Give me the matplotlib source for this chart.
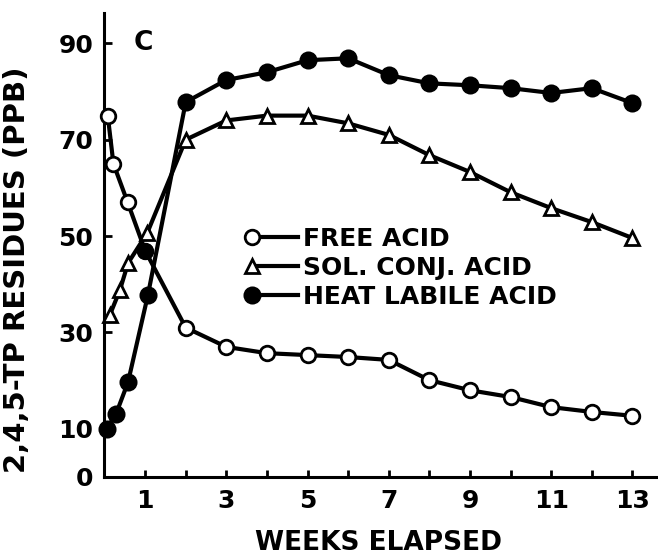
import matplotlib
matplotlib.use("Agg")
import matplotlib.pyplot as plt
from matplotlib.lines import Line2D
from matplotlib.legend_handler import HandlerBase

# ---- data ----
free_weeks = [0.08, 0.22, 0.57, 1.0, 2, 3, 4, 5, 6, 7, 8, 9, 10, 11, 12, 13]
free_acid = [75, 65, 57, 47, 31, 27, 25.7, 25.3, 24.9, 24.3, 20.1, 18, 16.6, 14.5, 13.5, 12.7]

conj_weeks = [0.13, 0.38, 0.58, 1.05, 2, 3, 4, 5, 6, 7, 8, 9, 10, 11, 12, 13]
sol_conj_acid = [33.6, 38.8, 44.4, 50.6, 70, 74, 75, 75, 73.4, 71, 66.8, 63.3, 59.1, 55.8, 52.9, 49.6]

heat_weeks = [0.05, 0.28, 0.58, 1.07, 2, 3, 4, 5, 6, 7, 8, 9, 10, 11, 12, 13]
heat_labile_acid = [10, 13, 19.7, 37.8, 77.8, 82.4, 84, 86.5, 86.9, 83.4, 81.7, 81.3, 80.7, 79.7, 80.7, 77.6]

series_labels = ["FREE ACID", "SOL. CONJ. ACID", "HEAT LABILE ACID"]
x_tick_values = [1, 3, 5, 7, 9, 11, 13]
x_minor_values = [2, 4, 6, 8, 10, 12]
y_tick_values = [0, 10, 30, 50, 70, 90]
x_label = "WEEKS ELAPSED"
y_label = "2,4,5-TP RESIDUES (PPB)"
panel_label = "C"

plt.rcParams['font.family'] = ['DejaVu Sans']
plt.rcParams['font.weight'] = 'bold'

fig = plt.figure(figsize=(6.58, 5.56), dpi=100)
ax = fig.add_axes([104.5 / 658, 79 / 556, 553.5 / 658, 464 / 556])
ax.set_xlim(0, 13.63)
ax.set_ylim(0, 96.3)

lw = 3.0
h_free, = ax.plot(free_weeks, free_acid, color='black', lw=lw, marker='o', ms=10.5,
                  mfc='white', mec='black', mew=2.0, clip_on=False, zorder=3)
# the 1-week free-acid point is printed filled in the original
ax.plot([free_weeks[3]], [free_acid[3]], linestyle='none', marker='o', ms=11,
        mfc='black', mec='black', clip_on=False, zorder=4)
h_conj, = ax.plot(conj_weeks, sol_conj_acid, color='black', lw=lw, marker='^', ms=10,
                  mfc='white', mec='black', mew=2.0, clip_on=False, zorder=3)
h_heat, = ax.plot(heat_weeks, heat_labile_acid, color='black', lw=lw, marker='o', ms=11.5,
                  mfc='black', mec='black', mew=1.5, clip_on=False, zorder=3)

for s in ['top', 'right']:
    ax.spines[s].set_visible(False)
for s in ['left', 'bottom']:
    ax.spines[s].set_linewidth(2.2)

ax.set_xticks(x_tick_values)
ax.set_xticks(x_minor_values, minor=True)
ax.set_yticks(y_tick_values)
ax.tick_params(axis='both', which='both', direction='in', width=2, colors='black')
ax.tick_params(axis='x', which='major', length=5, pad=9, labelsize=18)
ax.tick_params(axis='x', which='minor', length=5)
ax.tick_params(axis='y', which='major', length=6, pad=8, labelsize=18)
for t in ax.get_xticklabels() + ax.get_yticklabels():
    t.set_fontweight('bold')

ax.text(0.95, 90, panel_label, ha='center', va='center', fontsize=19, fontweight='bold')

fig.text(17 / 658, 1 - 270 / 556, y_label, rotation=90, ha='center', va='center',
         fontsize=21, fontweight='bold')
fig.text(378 / 658, 1 - 543 / 556, x_label, ha='center', va='center',
         fontsize=19, fontweight='bold')


class LeftMarkerHandler(HandlerBase):
    def create_artists(self, legend, orig_handle, xdescent, ydescent, width, height,
                       fontsize, trans):
        y = height / 2 - ydescent
        x0 = -xdescent
        line = Line2D([x0, x0 + width], [y, y], color='black',
                      lw=orig_handle.get_linewidth(), transform=trans)
        mk = Line2D([x0], [y], linestyle='none', marker=orig_handle.get_marker(),
                    markersize=orig_handle.get_markersize(),
                    markerfacecolor=orig_handle.get_markerfacecolor(),
                    markeredgecolor='black',
                    markeredgewidth=orig_handle.get_markeredgewidth(),
                    transform=trans)
        return [line, mk]


handler = LeftMarkerHandler()
leg = ax.legend([h_free, h_conj, h_heat], series_labels, loc='upper left',
                bbox_to_anchor=((252 - 104.5) / 553.5, (477 - 227) / 464),
                frameon=False, borderpad=0, borderaxespad=0, handlelength=1.84,
                handletextpad=0.2, labelspacing=0.2,
                prop={'size': 18, 'weight': 'bold'},
                handler_map={h_free: handler, h_conj: handler, h_heat: handler})

fig.savefig("out.png", dpi=100)
